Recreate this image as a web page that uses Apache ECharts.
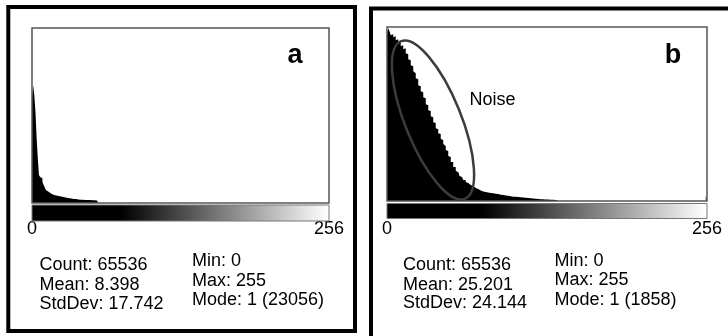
<!DOCTYPE html>
<html>
<head>
<meta charset="utf-8">
<script src="https://cdn.jsdelivr.net/npm/echarts@6/dist/echarts.min.js"></script>
<style>
  html, body { margin: 0; padding: 0; background: #fff; }
  #chart { width: 728px; height: 336px; }
</style>
</head>
<body>
<div id="chart"></div>
<script>
// tick labels under the gradient strip
const axisTicks = [0, 256]

// histogram a: counts per grey level, bins 0..56 (rest are empty)
const histA = [
  20500, 23056, 21000, 17800, 12700, 8760, 5500, 5100, 4840, 4120,
  3530, 3040, 2550, 2230, 2060, 1920, 1800, 1690, 1570, 1530,
  1490, 1430, 1370, 1310, 1250, 1220, 1180, 1140, 1080, 1040,
  980, 920, 880, 860, 840, 800, 780, 760, 730, 700,
  670, 650, 640, 630, 620, 610, 600, 590, 580, 570,
  560, 550, 540, 540, 530, 510, 430
]
const yMaxA = 34300

// histogram b: counts per grey level, bins 0..137
const histB = [
  1804, 1858, 1826, 1783, 1794, 1761, 1772, 1729, 1740, 1697,
  1708, 1665, 1675, 1632, 1643, 1590, 1579, 1525, 1514, 1461,
  1450, 1396, 1375, 1321, 1310, 1246, 1235, 1181, 1171, 1117,
  1106, 1042, 1031, 977, 967, 913, 902, 848, 838, 784,
  773, 730, 720, 666, 655, 612, 591, 548, 537, 483,
  473, 419, 419, 365, 365, 322, 311, 290, 269, 258,
  247, 226, 226, 204, 193, 183, 172, 161, 161, 145,
  140, 129, 129, 118, 113, 107, 102, 102, 97, 97,
  91, 89, 86, 86, 83, 81, 78, 75, 75, 70,
  68, 67, 64, 61, 59, 57, 56, 54, 50, 48,
  46, 45, 45, 43, 42, 41, 40, 39, 38, 37,
  35, 34, 32, 31, 30, 29, 27, 26, 25, 23,
  21, 21, 20, 19, 19, 18, 17, 17, 16, 15,
  14, 14, 13, 12, 11, 11, 9, 9
]
const lastBinB = 60   // bin 255
const yMaxB = 1872

const statsLeftA = ['Count: 65536', 'Mean: 8.398', 'StdDev: 17.742']
const statsRightA = ['Min: 0', 'Max: 255', 'Mode: 1 (23056)']
const statsLeftB = ['Count: 65536', 'Mean: 25.201', 'StdDev: 24.144']
const statsRightB = ['Min: 0', 'Max: 255', 'Mode: 1 (1858)']

const font = '"Liberation Sans", Arial, Helvetica, sans-serif'

const boxA = { left: 32, top: 28, width: 297, height: 175 }
const boxB = { left: 387, top: 27, width: 320, height: 174 }

const chart = echarts.init(document.getElementById('chart'), null, { renderer: 'canvas' })

const toSteps = (hist) => hist.map((v, i) => [i, v]).concat([[hist.length, 0]])

const xAxisFor = (gridIndex, margin) => ({
  type: 'value',
  gridIndex: gridIndex,
  min: axisTicks[0],
  max: axisTicks[1],
  interval: axisTicks[1] - axisTicks[0],
  axisLine: { show: false },
  axisTick: { show: false },
  splitLine: { show: false },
  axisLabel: { margin: margin, fontSize: 18, color: '#000', fontFamily: font },
})

const yAxisFor = (gridIndex, max) => ({
  type: 'value',
  gridIndex: gridIndex,
  min: 0,
  max: max,
  show: false,
})

const gradient = () =>
  new echarts.graphic.LinearGradient(0, 0, 1, 0, [
    { offset: 0, color: '#000' },
    { offset: 0.3, color: '#000' },
    { offset: 0.98, color: '#fafafa' },
    { offset: 1, color: '#fff' },
  ])

const frame = (box) => ({
  type: 'rect',
  z: 10,
  shape: { x: box.left, y: box.top, width: box.width, height: box.height },
  style: { fill: 'none', stroke: '#555', lineWidth: 1.5 },
})

const strip = (box, y, h) => ({
  type: 'rect',
  z: 10,
  shape: { x: box.left, y: y, width: box.width, height: h },
  style: { fill: gradient(), stroke: '#777', lineWidth: 1 },
})

const textLines = (lines, x, ys) =>
  lines.map((t, i) => ({
    type: 'text',
    z: 20,
    x: x,
    y: ys[i],
    style: { text: t, fontSize: 18, fontFamily: font, fill: '#000', verticalAlign: 'middle' },
  }))

const option = {
  animation: false,
  backgroundColor: '#fff',
  grid: [
    { left: boxA.left, top: boxA.top, width: boxA.width, height: boxA.height },
    { left: boxB.left, top: boxB.top, width: boxB.width, height: boxB.height },
  ],
  xAxis: [xAxisFor(0, 17), xAxisFor(1, 19)],
  yAxis: [yAxisFor(0, yMaxA), yAxisFor(1, yMaxB)],
  series: [
    {
      type: 'line',
      xAxisIndex: 0,
      yAxisIndex: 0,
      step: 'end',
      symbol: 'none',
      silent: true,
      lineStyle: { width: 0 },
      areaStyle: { color: '#000', opacity: 1 },
      data: toSteps(histA),
    },
    {
      type: 'line',
      xAxisIndex: 1,
      yAxisIndex: 1,
      step: 'end',
      symbol: 'none',
      silent: true,
      lineStyle: { width: 0 },
      areaStyle: { color: '#000', opacity: 1 },
      data: toSteps(histB),
    },
    {
      type: 'line',
      xAxisIndex: 1,
      yAxisIndex: 1,
      step: 'end',
      symbol: 'none',
      silent: true,
      lineStyle: { width: 0 },
      areaStyle: { color: '#000', opacity: 1 },
      data: [[255, lastBinB], [256, 0]],
    },
  ],
  graphic: [
    // panel borders
    { type: 'rect', z: 5, shape: { x: 8.3, y: 7, width: 346.7, height: 324 },
      style: { fill: 'none', stroke: '#000', lineWidth: 4 } },
    { type: 'rect', z: 5, shape: { x: 371, y: 8.5, width: 420, height: 400 },
      style: { fill: 'none', stroke: '#000', lineWidth: 4 } },
    frame(boxA),
    frame(boxB),
    strip(boxA, 205, 16),
    strip(boxB, 203.5, 15),
    // panel letters
    { type: 'text', z: 20, x: 295, y: 56,
      style: { text: 'a', fontSize: 27, fontWeight: 'bold', fontFamily: font, fill: '#000', align: 'center', verticalAlign: 'middle' } },
    { type: 'text', z: 20, x: 673, y: 56,
      style: { text: 'b', fontSize: 27, fontWeight: 'bold', fontFamily: font, fill: '#000', align: 'center', verticalAlign: 'middle' } },
    // noise annotation
    { type: 'ellipse', z: 15, x: 433, y: 120, rotation: 0.384,
      shape: { cx: 0, cy: 0, rx: 28, ry: 85 },
      style: { fill: 'none', stroke: '#3c3c3c', lineWidth: 2.5 } },
    { type: 'text', z: 20, x: 469.5, y: 100,
      style: { text: 'Noise', fontSize: 18, fontFamily: font, fill: '#000', verticalAlign: 'middle' } },
    ...textLines(statsLeftA, 39.5, [265, 285.3, 303.7]),
    ...textLines(statsRightA, 192, [261.5, 281.5, 300.5]),
    ...textLines(statsLeftB, 403, [265, 285, 303.5]),
    ...textLines(statsRightB, 554.5, [261.5, 280.5, 300]),
  ],
}

chart.setOption(option)
</script>
</body>
</html>
